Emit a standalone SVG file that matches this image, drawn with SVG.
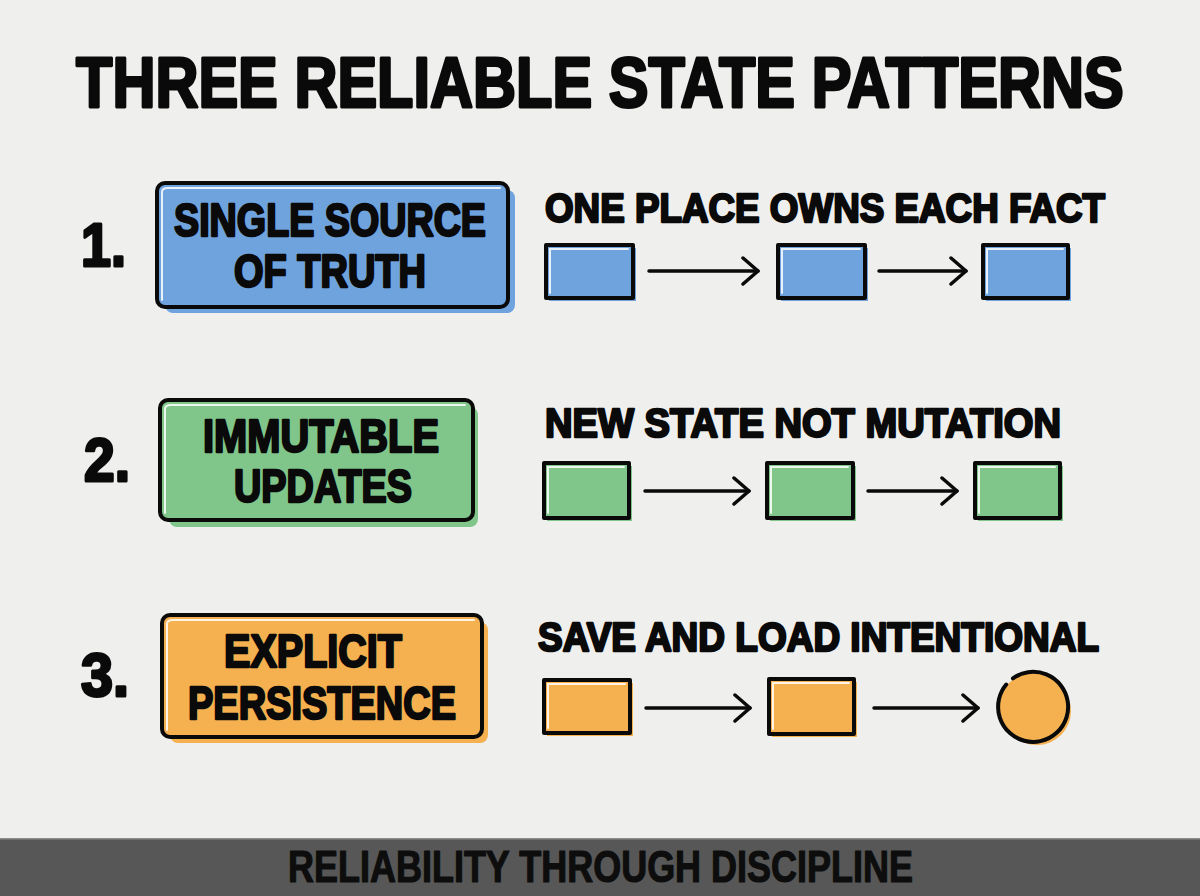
<svg xmlns="http://www.w3.org/2000/svg" width="1200" height="896" viewBox="0 0 1200 896">
  <defs>
    <style>
      .t { font-family: "Liberation Sans", Arial, sans-serif; font-weight: bold; fill: #0a0a0a; stroke: #0a0a0a; stroke-width: 2.4; stroke-linejoin: round; }
      .title { font-size: 71px; stroke-width: 3; }
      .num { font-size: 62px; stroke-width: 3; }
      .lbl { font-size: 46px; }
      .sub { font-size: 41px; }
      .foot { font-size: 44px; fill: #0d0d0d; stroke: #0d0d0d; stroke-width: 1.2; }
      .outline { stroke: #0a0a0a; stroke-width: 4; stroke-linejoin: round; }
      .sm { stroke: #0a0a0a; stroke-width: 4; stroke-linejoin: round; }
      .hl { fill: none; stroke: #ffffff; stroke-width: 2; stroke-linecap: round; opacity: 0.85; }
      .blue { fill: #6fa3de; }
      .green { fill: #80c68b; }
      .orange { fill: #f5b04f; }
      .conn { stroke: #0a0a0a; stroke-width: 3.5; stroke-linecap: round; fill: none; }
    </style>
    <marker id="chev" viewBox="0 0 22 30" refX="19" refY="15" markerWidth="22" markerHeight="30" markerUnits="userSpaceOnUse" orient="auto">
      <path d="M4 2 L19 15 L4 28" fill="none" stroke="#0a0a0a" stroke-width="3.5" stroke-linecap="round" stroke-linejoin="round"/>
    </marker>
  </defs>

  <rect x="0" y="0" width="1200" height="896" fill="#efefee"/>

  <g id="title" transform="translate(76,107) scale(0.825,1)">
    <text class="t title" x="0" y="0" textLength="1270" lengthAdjust="spacingAndGlyphs">THREE RELIABLE STATE PATTERNS</text>
  </g>

  <!-- Row 1 -->
  <g id="num1"><text class="t num" x="81" y="266" textLength="45" lengthAdjust="spacingAndGlyphs">1.</text></g>
  <g id="box1">
    <rect class="blue" x="165" y="190" width="350" height="123" rx="8"/>
    <rect class="blue outline" x="157" y="183" width="351" height="124" rx="8"/>
    <path class="hl" d="M162 300 L162 192 Q162 188 168 188 L500 188"/>
    <text class="t lbl" x="174" y="236" textLength="312" lengthAdjust="spacingAndGlyphs">SINGLE SOURCE</text>
    <text class="t lbl" x="234" y="287" textLength="192" lengthAdjust="spacingAndGlyphs">OF TRUTH</text>
  </g>
  <g id="sub1"><text class="t sub" x="545" y="222" textLength="560" lengthAdjust="spacingAndGlyphs">ONE PLACE OWNS EACH FACT</text></g>
  <g id="r1a">
    <rect class="blue" x="549" y="248" width="87" height="53"/>
    <rect class="blue sm" x="546" y="245" width="87" height="53"/>
    <path class="hl" d="M550 293 L550 249 L628 249"/>
  </g>
  <g id="r1b">
    <rect class="blue" x="781" y="248" width="87" height="53"/>
    <rect class="blue sm" x="778" y="245" width="87" height="53"/>
    <path class="hl" d="M782 293 L782 249 L860 249"/>
  </g>
  <g id="r1c">
    <rect class="blue" x="986" y="248" width="85" height="53"/>
    <rect class="blue sm" x="983" y="245" width="85" height="53"/>
    <path class="hl" d="M987 293 L987 249 L1063 249"/>
  </g>

  <!-- Row 2 -->
  <g id="num2"><text class="t num" x="84" y="481" textLength="46" lengthAdjust="spacingAndGlyphs">2.</text></g>
  <g id="box2">
    <rect class="green" x="169" y="407" width="309" height="120" rx="8"/>
    <rect class="green outline" x="160" y="400" width="313" height="120" rx="8"/>
    <path class="hl" d="M165 513 L165 409 Q165 405 171 405 L465 405"/>
    <text class="t lbl" x="203" y="452" textLength="236" lengthAdjust="spacingAndGlyphs">IMMUTABLE</text>
    <text class="t lbl" x="234" y="502" textLength="178" lengthAdjust="spacingAndGlyphs">UPDATES</text>
  </g>
  <g id="sub2"><text class="t sub" x="545" y="437" textLength="516" lengthAdjust="spacingAndGlyphs">NEW STATE NOT MUTATION</text></g>
  <g id="r2a">
    <rect class="green" x="547" y="466" width="85" height="55"/>
    <rect class="green sm" x="544" y="463" width="85" height="55"/>
    <path class="hl" d="M548 513 L548 467 L624 467"/>
  </g>
  <g id="r2b">
    <rect class="green" x="770" y="466" width="86" height="55"/>
    <rect class="green sm" x="767" y="463" width="86" height="55"/>
    <path class="hl" d="M771 513 L771 467 L848 467"/>
  </g>
  <g id="r2c">
    <rect class="green" x="978" y="466" width="85" height="55"/>
    <rect class="green sm" x="975" y="463" width="85" height="55"/>
    <path class="hl" d="M979 513 L979 467 L1055 467"/>
  </g>

  <!-- Row 3 -->
  <g id="num3"><text class="t num" x="81" y="696" textLength="48" lengthAdjust="spacingAndGlyphs">3.</text></g>
  <g id="box3">
    <rect class="orange" x="170" y="622" width="318" height="121" rx="8"/>
    <rect class="orange outline" x="162" y="615" width="320" height="122" rx="8"/>
    <path class="hl" d="M167 730 L167 624 Q167 620 173 620 L474 620"/>
    <text class="t lbl" x="224" y="667" textLength="178" lengthAdjust="spacingAndGlyphs">EXPLICIT</text>
    <text class="t lbl" x="188" y="719" textLength="268" lengthAdjust="spacingAndGlyphs">PERSISTENCE</text>
  </g>
  <g id="sub3"><text class="t sub" x="538" y="651" textLength="561" lengthAdjust="spacingAndGlyphs">SAVE AND LOAD INTENTIONAL</text></g>
  <g id="r3a">
    <rect class="orange" x="547" y="683" width="86" height="53"/>
    <rect class="orange sm" x="544" y="680" width="86" height="53"/>
    <path class="hl" d="M548 728 L548 684 L625 684"/>
  </g>
  <g id="r3b">
    <rect class="orange" x="772" y="682" width="85" height="55"/>
    <rect class="orange sm" x="769" y="679" width="85" height="55"/>
    <path class="hl" d="M773 729 L773 683 L849 683"/>
  </g>
  <g id="r3c">
    <circle class="orange" cx="1037" cy="711" r="34"/>
    <circle class="orange" cx="1033" cy="707" r="34"/>
    <path d="M1012.9 678.3 A35 35 0 1 1 1006.2 684.5" fill="none" stroke="#0a0a0a" stroke-width="4" stroke-linecap="round"/>
  </g>

  <g id="connectors">
    <line class="conn" x1="649" y1="271" x2="758" y2="271" marker-end="url(#chev)"/>
    <line class="conn" x1="879" y1="271" x2="966" y2="271" marker-end="url(#chev)"/>
    <line class="conn" x1="645" y1="491" x2="749" y2="491" marker-end="url(#chev)"/>
    <line class="conn" x1="868" y1="491" x2="957" y2="491" marker-end="url(#chev)"/>
    <line class="conn" x1="646" y1="708" x2="750" y2="708" marker-end="url(#chev)"/>
    <line class="conn" x1="874" y1="708" x2="978" y2="708" marker-end="url(#chev)"/>
  </g>

  <g id="footer">
    <rect x="0" y="838" width="1200" height="58" fill="#575757"/>
    <rect x="0" y="838" width="1200" height="1.5" fill="#8c8c8c"/>
    <text class="t foot" x="288" y="882" textLength="625" lengthAdjust="spacingAndGlyphs">RELIABILITY THROUGH DISCIPLINE</text>
  </g>
</svg>
